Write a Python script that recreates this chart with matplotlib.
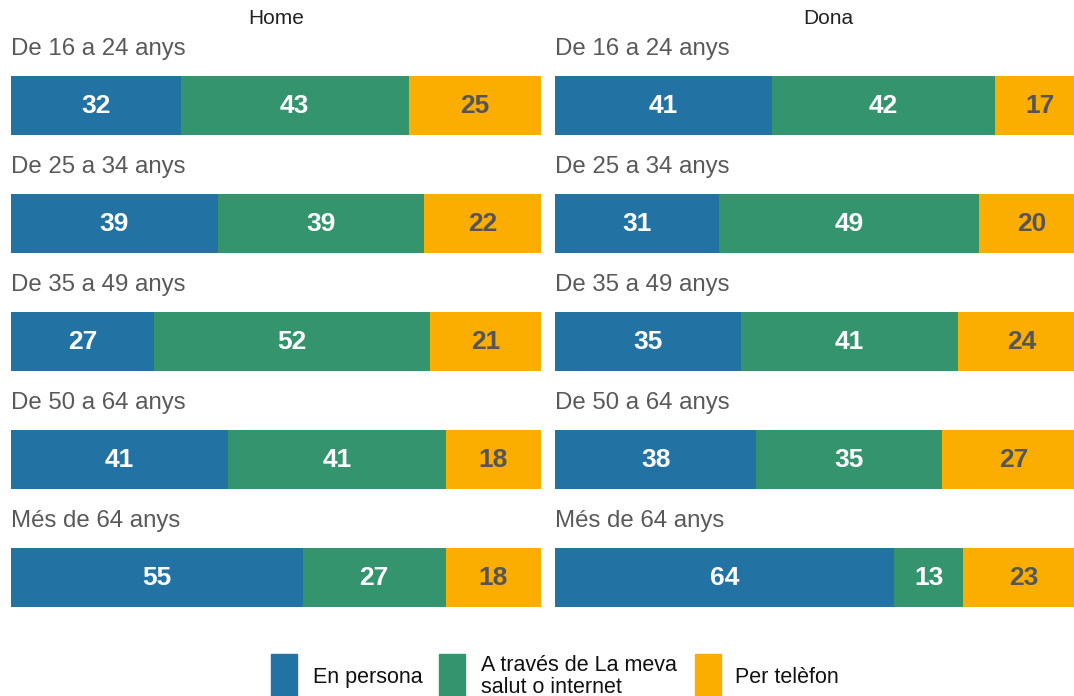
import matplotlib
matplotlib.use("Agg")
import matplotlib.pyplot as plt
from matplotlib.patches import Rectangle

plt.rcParams['font.family'] = ['Liberation Sans', 'DejaVu Sans']

# Data
age_groups = ["De 16 a 24 anys", "De 25 a 34 anys", "De 35 a 49 anys",
              "De 50 a 64 anys", "Més de 64 anys"]
panels = ["Home", "Dona"]
series = ["En persona", "A través de La meva\nsalut o internet", "Per telèfon"]
home_persona = [32, 39, 27, 41, 55]
home_internet = [43, 39, 52, 41, 27]
home_telefon = [25, 22, 21, 18, 18]
dona_persona = [41, 31, 35, 38, 64]
dona_internet = [42, 49, 41, 35, 13]
dona_telefon = [17, 20, 24, 27, 23]

colors = ["#2273A4", "#33946D", "#FBAE00"]
text_colors = ["white", "white", "#555555"]

W, H = 1074, 696
fig = plt.figure(figsize=(W / 100, H / 100), dpi=100)

def px_axes(x0, x1, y0, y1):
    return fig.add_axes([x0 / W, 1 - y1 / H, (x1 - x0) / W, (y1 - y0) / H])

panel_data = {
    "Home": [home_persona, home_internet, home_telefon],
    "Dona": [dona_persona, dona_internet, dona_telefon],
}
# the right-hand panel runs past the figure edge and is cropped by it
extents = {"Home": (11, 541), "Dona": (555, 1085)}
title_x = {"Home": 50, "Dona": 51.5}

row_step = 118
bar_h = 59
first_center = 105.5

for name in panels:
    x0, x1 = extents[name]
    ax = px_axes(x0, x1, 0, 640)
    ax.set_xlim(0, 100)
    ax.set_ylim(640, 0)
    ax.axis("off")
    vals = panel_data[name]
    for i, grp in enumerate(age_groups):
        yc = first_center + i * row_step
        left = 0
        for s in range(3):
            v = vals[s][i]
            ax.barh(yc, v, left=left, height=bar_h, color=colors[s],
                    edgecolor="none")
            ax.text(left + v / 2, yc + 7.5, f"{v}", ha="center", va="baseline",
                    fontsize=19, fontweight="bold", color=text_colors[s])
            left += v
        ax.text(0, yc - 50.5, grp, ha="left", va="baseline", fontsize=17.3,
                color="#595959")
    ax.text(title_x[name], 24, name, ha="center", va="baseline", fontsize=15,
            color="#222222")

# Legend
leg = fig.add_axes([0, 0, 1, 1])
leg.set_xlim(0, W)
leg.set_ylim(H, 0)
leg.axis("off")
legend_items = [(271, 313), (439, 481), (695, 735)]
for (px, tx), label, c in zip(legend_items, series, colors):
    leg.add_patch(Rectangle((px, 654), 26, 44, color=c, clip_on=False))
    lines = label.split("\n")
    if len(lines) == 1:
        leg.text(tx, 683, lines[0], ha="left", va="baseline", fontsize=15.5,
                 color="#111111")
    else:
        for k, ln in enumerate(lines):
            leg.text(tx, 671 + 22 * k, ln, ha="left", va="baseline",
                     fontsize=15.5, color="#111111")

fig.savefig("out.png", dpi=100)
